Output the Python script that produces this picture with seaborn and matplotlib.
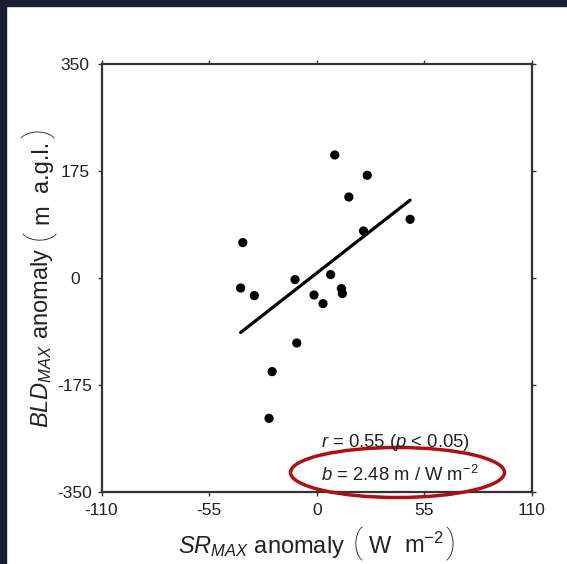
import numpy as np
import pandas as pd
import matplotlib
matplotlib.use("Agg")
import matplotlib.pyplot as plt
import seaborn as sns
from matplotlib.patches import Ellipse, Rectangle

# Data
sr_anom = [9.2, 25.8, 16.4, 47.7, 23.9, -37.8, 7.1, -11.1, -38.9, -31.9,
           -1.4, 12.6, 13.1, 3.2, -10.2, -22.8, -24.4]
bld_anom = [201.7, 168.5, 133.0, 96.5, 77.4, 58.4, 6.1, -2.1, -15.9, -28.3,
            -27.3, -16.8, -25.0, -41.4, -105.8, -152.6, -229.0]
x_ticks = [-110, -55, 0, 55, 110]
y_ticks = [-350, -175, 0, 175, 350]
stat_r = "0.55"
stat_p = "0.05"
stat_b = "2.48"

df = pd.DataFrame({"sr": sr_anom, "bld": bld_anom})

sns.set_theme(style="white")
plt.rcParams["font.family"] = ["Liberation Sans", "DejaVu Sans"]
plt.rcParams["mathtext.fontset"] = "custom"
plt.rcParams["mathtext.rm"] = "Liberation Sans"
plt.rcParams["mathtext.it"] = "Liberation Sans:italic"
plt.rcParams["mathtext.bf"] = "Liberation Sans:bold"

W_PX, H_PX = 567, 564
fig = plt.figure(figsize=(W_PX / 100, H_PX / 100), dpi=100)
fig.patch.set_facecolor("white")
# dark slide border (top and left)
fig.add_artist(Rectangle((0, 1 - 6 / H_PX), 1, 6 / H_PX, transform=fig.transFigure,
                         color="#1b1b36", zorder=0))
fig.add_artist(Rectangle((0, 0), 6 / W_PX, 1, transform=fig.transFigure,
                         color="#1b1b36", zorder=0))

L, R, T, B = 101.5, 532, 64.3, 492.3
ax = fig.add_axes([L / W_PX, 1 - B / H_PX, (R - L) / W_PX, (B - T) / H_PX])

sns.regplot(data=df, x="sr", y="bld", ax=ax, ci=None, truncate=True,
            scatter_kws=dict(s=44, color="black", edgecolor="none", alpha=1),
            line_kws=dict(color="black", lw=2.3))

ax.set_xlim(-110, 110)
ax.set_ylim(-350, 350)
ax.set_xticks(x_ticks)
ax.set_yticks(y_ticks)
ax.set_xticklabels([str(v) for v in x_ticks])
ax.set_yticklabels([str(v) for v in y_ticks])
ax.set_xlabel("")
ax.set_ylabel("")
for s in ax.spines.values():
    s.set_visible(True)
    s.set_color("#333333")
    s.set_linewidth(1.6)
ax.tick_params(axis="both", which="both", direction="out", length=2.9, width=1.0,
               color="#333333", labelsize=12.5, labelcolor="#222222",
               top=True, right=True, bottom=True, left=True,
               labeltop=False, labelright=False)
ax.tick_params(axis="x", pad=4.8)
ax.tick_params(axis="y", pad=16.2)
for lab in ax.get_yticklabels():
    lab.set_horizontalalignment("center")

fx = lambda px: px / W_PX
fy = lambda py: 1 - py / H_PX

# statistics text
fig.text(fx(320.7), fy(447), r"$r$ = " + stat_r + r" ($p$ < " + stat_p + ")",
         ha="left", va="baseline", fontsize=13.3, color="#222222")
fig.text(fx(320.7), fy(481), r"$b$ = " + stat_b + r" m / W m$^{-2}$",
         ha="left", va="baseline", fontsize=13.3, color="#222222")

ell = Ellipse(xy=((397.5 - L) / (R - L), (B - 472.5) / (B - T)),
              width=214 / (R - L), height=50 / (B - T),
              transform=ax.transAxes, fill=False, edgecolor="#b00f14",
              lw=2.5, clip_on=False, zorder=5)
ax.add_patch(ell)

# axis labels built from pieces (tall thin brackets)
renderer = fig.canvas.get_renderer()
LABEL_FS = 17
PAREN_FS = 24


def piece_props(kind):
    if kind == "paren":
        return dict(fontsize=PAREN_FS, family=["Roboto", "DejaVu Sans"],
                    fontweight=100, color="#222222")
    return dict(fontsize=LABEL_FS, color="#222222")


def measure(s, kind):
    t = fig.text(0, 0, s, **piece_props(kind))
    w = t.get_window_extent(renderer).width
    t.remove()
    return w


def place_label(pieces, gaps, center_px, base_px, vertical):
    widths = [measure(s, k) for s, k in pieces]
    total = sum(widths) + sum(gaps)
    pos = center_px - total / 2.0
    for i, ((s, k), w) in enumerate(zip(pieces, widths)):
        if vertical:
            fig.text(base_px / W_PX, pos / H_PX, s, rotation=90,
                     rotation_mode="anchor", ha="left", va="baseline",
                     **piece_props(k))
        else:
            fig.text(pos / W_PX, 1 - base_px / H_PX, s, ha="left",
                     va="baseline", **piece_props(k))
        pos += w
        if i < len(gaps):
            pos += gaps[i]


x_label_pieces = [(r"$SR_{MAX}$ anomaly", "t"), ("(", "paren"), ("W", "t"),
                  (r"m$^{-2}$", "t"), (")", "paren")]
y_label_pieces = [(r"$BLD_{MAX}$ anomaly", "t"), ("(", "paren"), ("m", "t"),
                  ("a.g.l.", "t"), (")", "paren")]
label_gaps = [8, 6, 13, 2]

place_label(x_label_pieces, label_gaps, (L + R) / 2, 553, vertical=False)
place_label(y_label_pieces, label_gaps, H_PX - (T + B) / 2, 48, vertical=True)

fig.savefig("out.png", dpi=100, facecolor=fig.get_facecolor())
